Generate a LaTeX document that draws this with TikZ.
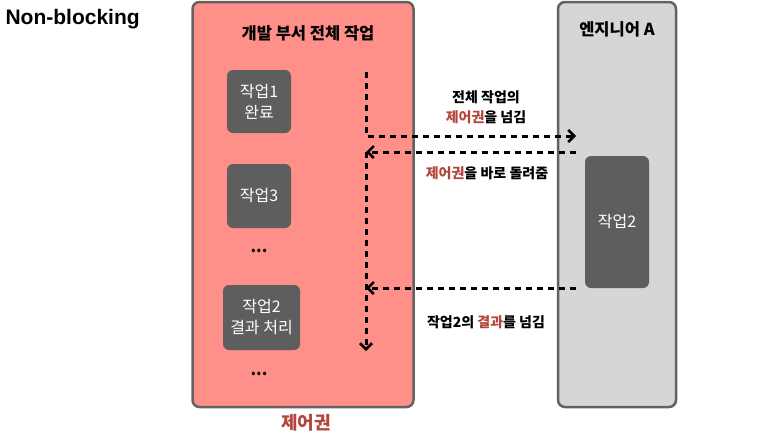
\documentclass[tikz,border=0pt]{standalone}
\usepackage{fontspec}
\setmainfont{Noto Sans CJK KR}
\newfontfamily\latinsans{Liberation Sans}
\usetikzlibrary{arrows.meta}
\definecolor{panelred}{HTML}{FF9089}
\definecolor{panelgray}{HTML}{D6D6D6}
\definecolor{panelline}{HTML}{626262}
\definecolor{jobfill}{HTML}{5E5E5E}
\definecolor{ctrlred}{HTML}{B4453C}
\newcommand{\ctrl}[1]{\textcolor{ctrlred}{#1}}
\tikzset{
  panel/.style = {draw=panelline, line width=2.5pt, rounded corners=7pt, minimum width=#1, inner sep=0pt},
  jobbox/.style = {fill=jobfill, rounded corners=6pt, text=white, align=center, inner sep=0pt, font=\fontsize{16}{21}\selectfont},
  pass/.style = {line width=3pt, dash pattern=on 6pt off 5pt, -{Straight Barb[length=6pt,width=12pt,line width=2.5pt]}},
  note/.style = {align=center, font=\fontsize{14}{20}\selectfont\bfseries},
  head/.style = {font=\fontsize{16.5}{18}\selectfont\bfseries},
  more/.style = {font=\fontsize{16}{18}\selectfont\bfseries}
}
\begin{document}
\begin{tikzpicture}[x=1pt, y=-1pt]
    \useasboundingbox (0, 0) rectangle (777, 437);
    \node [anchor=west, font=\latinsans\fontsize{21}{24}\selectfont\bfseries] (title) at (2, 19) {Non-blocking};
    \node [panel=221pt, minimum height=405pt, fill=panelred] (dev) at (303, 204.5) {};
    \node [panel=118pt, minimum height=405pt, fill=panelgray] (eng) at (617, 204.5) {};
    \node [head] (devtitle) at (308, 33) {개발 부서 전체 작업};
    \node [head] (engtitle) at (617, 29) {엔지니어 A};
    \node [jobbox, minimum width=64pt, minimum height=63pt] (job1) at (259, 101.5) {작업1\\완료};
    \node [jobbox, minimum width=64pt, minimum height=64pt] (job3) at (259, 196) {작업3};
    \node [more] (dotsa) at (259, 251) {...};
    \node [jobbox, minimum width=77pt, minimum height=65pt] (job2res) at (261.5, 317.5) {작업2\\결과 처리};
    \node [more] (dotsb) at (259, 374) {...};
    \node [jobbox, minimum width=64pt, minimum height=132pt] (job2) at (617, 222) {작업2};
    \node [font=\fontsize{18}{20}\selectfont\bfseries, text=ctrlred] (owner) at (306, 423) {제어권};
    \coordinate (flowtop) at (366, 72);
    \coordinate (flowturn) at (366, 136);
    \coordinate (handout) at (576, 136);
    \coordinate (backfrom) at (576, 152);
    \coordinate (backto) at (366, 152);
    \coordinate (flowend) at (366, 351);
    \coordinate (resfrom) at (576, 288);
    \coordinate (resto) at (366, 288);
    \draw [pass] (flowtop) -- (flowturn) -- (handout);
    \draw [pass] (backfrom) -- (backto);
    \draw [pass] (backto) -- (flowend);
    \draw [pass] (resfrom) -- (resto);
    \node [note] (givenote) at (486, 107) {전체 작업의\\\ctrl{제어권}을 넘김};
    \node [note] (backnote) at (487, 173) {\ctrl{제어권}을 바로 돌려줌};
    \node [note] (resnote) at (486, 322) {작업2의 \ctrl{결과}를 넘김};
\end{tikzpicture}
\end{document}
